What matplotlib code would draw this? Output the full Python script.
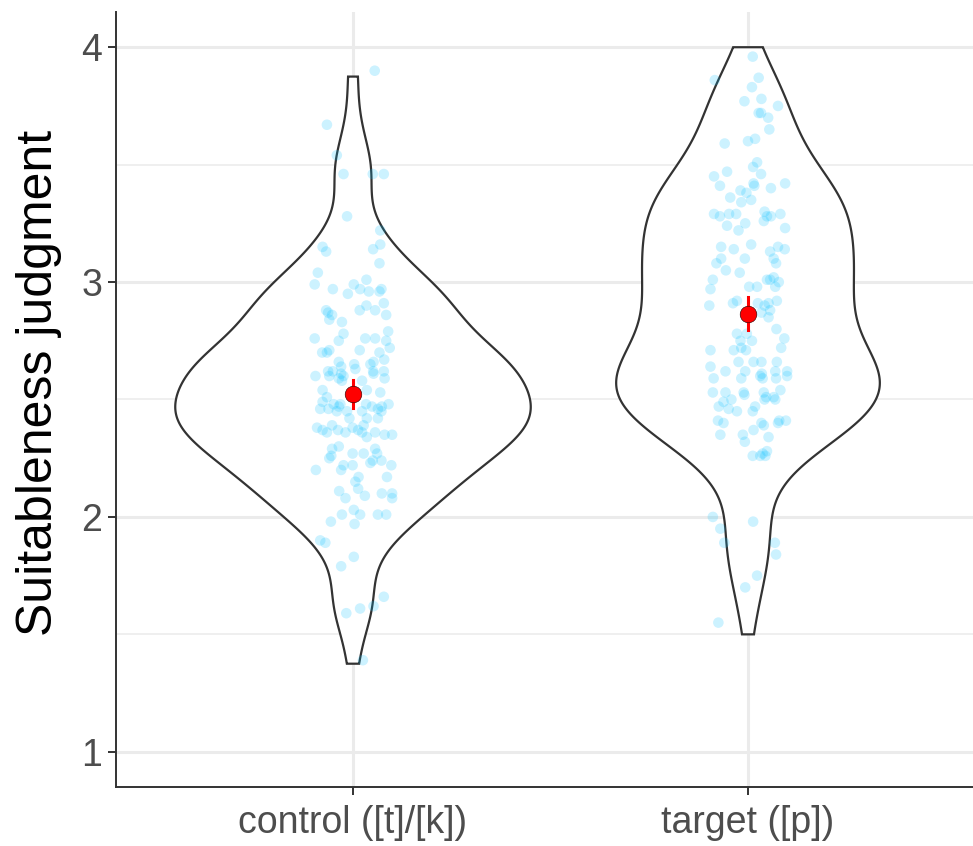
import numpy as np
import matplotlib
matplotlib.use("Agg")
import matplotlib.pyplot as plt
from matplotlib.ticker import MultipleLocator

plt.rcParams['font.family'] = ['Liberation Sans', 'DejaVu Sans']

# categories
groups = ['control ([t]/[k])', 'target ([p])']

# point values (y) and horizontal jitter
control_y = [3.90, 3.67, 3.54, 3.46, 3.46, 3.46, 3.28, 3.22, 3.15, 3.13, 3.16, 3.14, 3.08, 3.04,
             2.99, 2.97, 2.95, 2.99, 2.97, 3.01, 2.96, 2.96, 2.97, 2.91, 2.88, 2.87, 2.86, 2.84,
             2.83, 2.88, 2.90, 2.88, 2.86, 2.76, 2.78, 2.75, 2.76, 2.76, 2.79, 2.75, 2.70, 2.70,
             2.71, 2.71, 2.70, 2.72, 2.66, 2.64, 2.65, 2.63, 2.65, 2.66, 2.67, 2.60, 2.62, 2.62,
             2.60, 2.61, 2.60, 2.59, 2.58, 2.62, 2.61, 2.62, 2.59, 2.58, 2.54, 2.53, 2.51, 2.54,
             2.49, 2.46, 2.46, 2.48, 2.47, 2.48, 2.45, 2.45, 2.45, 2.48, 2.47, 2.46, 2.47, 2.45,
             2.48, 2.42, 2.42, 2.42, 2.38, 2.37, 2.36, 2.39, 2.37, 2.36, 2.38, 2.37, 2.36, 2.39,
             2.34, 2.36, 2.35, 2.35, 2.29, 2.30, 2.27, 2.27, 2.29, 2.27, 2.25, 2.26, 2.22, 2.20,
             2.22, 2.23, 2.24, 2.24, 2.22, 2.20, 2.17, 2.15, 2.17, 2.12, 2.11, 2.08, 2.09, 2.10,
             2.10, 2.08, 2.03, 2.01, 2.01, 2.01, 2.01, 1.98, 1.97, 1.90, 1.89, 1.79, 1.83, 1.59,
             1.61, 1.62, 1.66, 1.39]
control_dx = [0.055, -0.066, -0.041, -0.024, 0.050, 0.078, -0.015, 0.069, -0.077, -0.068, 0.069,
              0.051, 0.067, -0.089, -0.097, -0.051, -0.013, 0.002, 0.018, 0.034, 0.040, 0.067,
              0.072, 0.078, -0.068, -0.063, -0.053, -0.060, -0.028, 0.017, 0.034, 0.056, 0.084,
              -0.097, -0.024, -0.036, 0.031, 0.056, 0.089, 0.084, -0.078, -0.066, -0.060, 0.017,
              0.067, 0.093, -0.036, -0.030, 0.003, 0.006, 0.044, 0.052, 0.079, -0.095, -0.063,
              -0.051, -0.060, -0.030, -0.024, -0.036, -0.028, 0.051, 0.052, 0.078, 0.080, 0.023,
              -0.077, 0.069, -0.066, 0.035, -0.077, -0.083, -0.062, -0.049, -0.036, -0.032,
              -0.041, -0.015, 0.023, 0.033, 0.048, 0.063, 0.073, 0.072, 0.090, -0.009, 0.035,
              0.063, -0.091, -0.077, -0.066, -0.053, -0.038, -0.019, -0.001, 0.013, 0.023, 0.027,
              0.035, 0.056, 0.080, 0.099, -0.053, -0.036, -0.001, 0.027, 0.056, 0.061, -0.060,
              -0.055, -0.024, -0.030, -0.001, 0.044, 0.050, 0.072, 0.097, -0.094, 0.014, 0.006,
              0.086, 0.013, -0.035, -0.019, 0.030, 0.073, 0.099, 0.099, 0.002, 0.018, -0.028,
              0.063, 0.084, -0.056, 0.004, -0.083, -0.070, -0.030, 0.002, -0.017, 0.018, 0.052,
              0.078, 0.025]

target_y = [3.96, 3.86, 3.87, 3.83, 3.77, 3.78, 3.75, 3.72, 3.72, 3.70, 3.65, 3.59, 3.60, 3.61,
            3.51, 3.49, 3.47, 3.45, 3.46, 3.42, 3.41, 3.42, 3.41, 3.40, 3.39, 3.38, 3.36, 3.35,
            3.34, 3.29, 3.28, 3.29, 3.29, 3.30, 3.28, 3.28, 3.29, 3.26, 3.24, 3.25, 3.22, 3.23,
            3.15, 3.14, 3.16, 3.10, 3.13, 3.14, 3.15, 3.10, 3.08, 3.08, 3.10, 3.05, 3.04, 3.01,
            2.97, 2.90, 2.98, 2.98, 3.01, 3.01, 3.02, 3.00, 2.98, 2.92, 2.91, 2.92, 2.91, 2.90,
            2.91, 2.88, 2.85, 2.87, 2.80, 2.78, 2.78, 2.76, 2.72, 2.75, 2.75, 2.72, 2.71, 2.71,
            2.71, 2.66, 2.66, 2.66, 2.66, 2.64, 2.62, 2.62, 2.61, 2.62, 2.62, 2.59, 2.59, 2.60,
            2.59, 2.59, 2.60, 2.53, 2.53, 2.53, 2.52, 2.53, 2.51, 2.50, 2.51, 2.50, 2.54, 2.47,
            2.49, 2.50, 2.46, 2.45, 2.47, 2.45, 2.41, 2.40, 2.40, 2.39, 2.40, 2.41, 2.41, 2.35,
            2.37, 2.35, 2.32, 2.34, 2.26, 2.26, 2.27, 2.26, 2.28, 2.00, 1.95, 1.89, 1.98, 1.89,
            1.84, 1.75, 1.70, 1.55]
target_dx = [0.012, -0.084, 0.027, 0.010, -0.009, 0.034, 0.076, 0.027, 0.033, 0.051, 0.054,
             -0.059, 0.000, 0.018, 0.023, 0.013, -0.053, -0.086, 0.033, 0.094, -0.071, 0.014,
             0.016, 0.058, -0.019, -0.004, -0.045, 0.008, -0.017, -0.086, -0.071, -0.048, -0.030,
             0.042, 0.048, 0.058, 0.082, 0.040, -0.053, -0.007, -0.024, 0.094, -0.068, -0.036,
             0.008, -0.008, 0.056, 0.093, 0.076, 0.065, 0.071, -0.080, -0.068, -0.056, -0.021,
             -0.089, -0.095, -0.098, 0.003, 0.023, 0.048, 0.056, 0.065, 0.078, 0.069, 0.073,
             -0.038, -0.028, 0.025, 0.042, 0.052, 0.056, 0.052, 0.034, 0.072, -0.028, -0.003,
             0.092, 0.084, -0.019, 0.010, -0.017, -0.036, -0.005, -0.095, -0.024, 0.014, 0.034,
             0.073, -0.095, -0.057, -0.007, 0.035, 0.069, 0.099, -0.087, -0.017, 0.031, 0.037,
             0.071, 0.099, -0.089, -0.057, -0.011, -0.009, 0.040, 0.046, 0.042, 0.065, 0.069,
             0.082, -0.074, -0.062, -0.042, -0.049, -0.028, 0.018, 0.012, -0.076, -0.062, 0.034,
             0.040, 0.076, 0.079, 0.096, -0.070, 0.014, -0.013, -0.008, 0.052, 0.012, 0.031,
             0.037, 0.044, 0.048, -0.089, -0.070, -0.060, 0.013, 0.068, 0.071, 0.023, -0.007,
             -0.075]

# violin range (trimmed) per group
violin_lo = [1.375, 1.5]
violin_hi = [3.875, 4.0]

# mean and interval per group
means = [2.522, 2.862]
ci_lo = [2.463, 2.795]
ci_hi = [2.583, 2.936]

all_y = [control_y, target_y]
all_dx = [control_dx, target_dx]


def kde(vals, grid):
    vals = np.asarray(vals)
    n = len(vals)
    iqr = np.subtract(*np.percentile(vals, [75, 25]))
    bw = 0.9 * min(vals.std(ddof=1), iqr / 1.34) * n ** -0.2
    z = (grid[:, None] - vals[None, :]) / bw
    return np.exp(-0.5 * z ** 2).sum(axis=1) / (n * bw * np.sqrt(2 * np.pi))


fig = plt.figure(figsize=(9.73, 8.46), dpi=100)
ax = fig.add_axes([116 / 973, 59 / 846, 869 / 973, 775 / 846])

# violins (scale = "area": shared max width)
grids, dens = [], []
for i in range(2):
    g = np.linspace(violin_lo[i], violin_hi[i], 512)
    grids.append(g)
    dens.append(kde(all_y[i], g))
dmax = max(d.max() for d in dens)
for i in range(2):
    w = dens[i] / dmax * 0.45
    xs = np.concatenate([i + 1 - w, (i + 1 + w)[::-1], [i + 1 - w[0]]])
    ys = np.concatenate([grids[i], grids[i][::-1], [grids[i][0]]])
    ax.fill(xs, ys, facecolor='white', edgecolor='#333333', lw=1.6, zorder=2)

# points
for i in range(2):
    ax.scatter(np.array(all_dx[i]) + i + 1, all_y[i], s=58, color='#00BFFF',
               alpha=0.2, edgecolors='none', zorder=3)

# mean and interval
for i in range(2):
    ax.plot([i + 1, i + 1], [ci_lo[i], ci_hi[i]], color='red', lw=2.2, zorder=4)
    ax.plot(i + 1, means[i], 'o', color='red', ms=12, mec='#1a0000', mew=0.4, zorder=5)

ax.set_xlim(0.4, 2.6)
ax.set_ylim(0.85, 4.15)
ax.set_xticks([1, 2])
ax.set_xticklabels(groups)
ax.set_yticks([1, 2, 3, 4])
ax.yaxis.set_minor_locator(MultipleLocator(0.5))
ax.xaxis.set_minor_locator(plt.NullLocator())

ax.grid(True, which='major', color='#EBEBEB', lw=2.2, zorder=0)
ax.grid(True, which='minor', axis='y', color='#EBEBEB', lw=1.1, zorder=0)
ax.set_axisbelow(True)

for s in ['top', 'right']:
    ax.spines[s].set_visible(False)
for s in ['left', 'bottom']:
    ax.spines[s].set_color('#333333')
    ax.spines[s].set_linewidth(1.4)

ax.tick_params(axis='both', which='major', length=6, width=1.4, color='#333333',
               labelsize=27, labelcolor='#4D4D4D', pad=4)
ax.tick_params(axis='x', which='major', pad=7)
ax.tick_params(axis='y', which='minor', length=0)

ax.set_ylabel('Suitableness judgment', fontsize=36, color='black')
ax.yaxis.set_label_coords(-0.062, 0.522)

fig.savefig('out.png', dpi=100)
